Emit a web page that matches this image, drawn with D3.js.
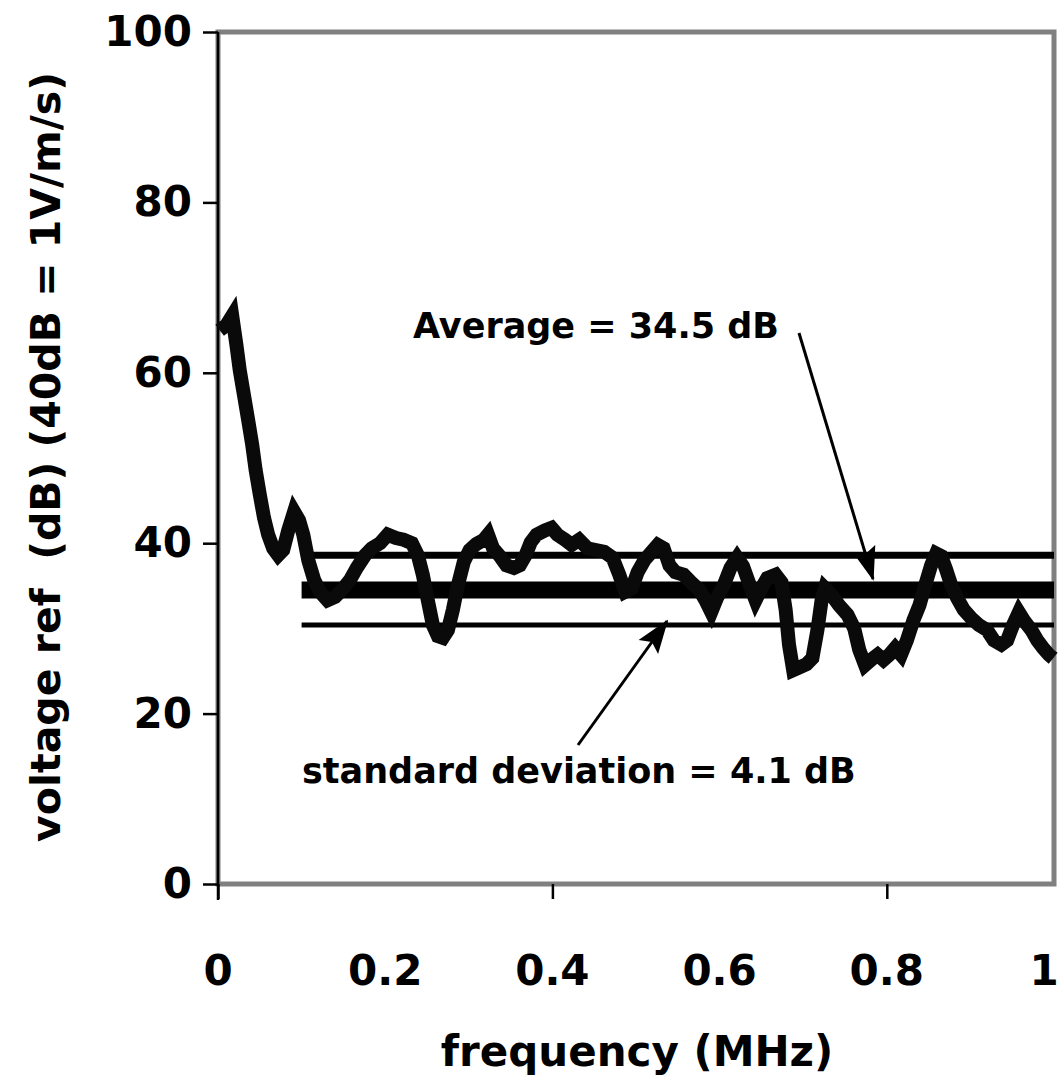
<!DOCTYPE html>
<html><head><meta charset="utf-8">
<script src="https://cdn.jsdelivr.net/npm/d3@7"></script>
<style>body{margin:0;background:#fff} svg{display:block}</style>
</head><body><svg id="c" width="1060" height="1079"></svg>
<script>
// ---- data ----
const freq = [0.002,0.010,0.017,0.022,0.026,0.031,0.036,0.041,0.045,0.050,0.055,0.060,0.066,0.072,0.078,0.084,0.091,0.097,0.102,0.108,0.115,0.122,0.131,0.140,0.148,0.158,0.166,0.176,0.184,0.194,0.203,0.213,0.222,0.232,0.239,0.245,0.251,0.257,0.263,0.269,0.275,0.281,0.287,0.294,0.301,0.309,0.318,0.323,0.329,0.337,0.345,0.354,0.361,0.368,0.374,0.381,0.391,0.399,0.406,0.415,0.423,0.432,0.442,0.452,0.462,0.472,0.480,0.487,0.495,0.502,0.510,0.519,0.526,0.533,0.540,0.547,0.557,0.566,0.576,0.583,0.590,0.597,0.605,0.613,0.621,0.628,0.636,0.643,0.650,0.657,0.667,0.674,0.679,0.683,0.688,0.695,0.704,0.711,0.717,0.722,0.726,0.734,0.743,0.753,0.761,0.767,0.774,0.781,0.789,0.796,0.803,0.810,0.817,0.824,0.832,0.839,0.846,0.853,0.859,0.865,0.871,0.877,0.884,0.892,0.901,0.910,0.920,0.928,0.937,0.944,0.951,0.958,0.965,0.973,0.980,0.987,0.994,0.999];
const level = [65.0,65.6,66.7,63.3,60.3,57.4,54.5,51.5,48.6,45.7,43.0,41.0,39.4,38.6,39.2,41.5,43.7,42.7,41.0,38.0,35.7,34.3,33.3,33.7,34.5,35.7,37.1,38.6,39.4,40.0,41.0,40.6,40.4,40.0,38.6,36.3,33.3,30.4,29.1,28.9,29.8,32.2,35.1,37.8,39.2,39.9,40.4,41.0,39.4,38.5,37.4,37.1,37.4,38.6,40.1,41.0,41.5,41.8,41.0,40.4,39.8,40.4,39.4,39.2,39.0,38.3,36.3,34.3,34.7,36.6,38.0,39.0,39.8,39.4,37.4,36.6,36.3,35.4,34.5,33.3,31.9,33.6,35.1,37.1,38.3,37.3,35.1,33.3,34.7,35.9,36.3,35.4,32.2,28.1,25.1,25.4,25.8,26.5,29.8,33.3,34.7,33.9,32.7,31.6,30.0,27.5,25.7,26.3,26.9,26.3,26.9,27.7,26.9,28.6,31.0,32.7,35.1,37.4,38.8,38.5,36.9,35.1,33.6,32.2,31.2,30.4,29.8,28.6,28.1,28.6,30.4,31.9,30.8,29.8,28.6,27.7,26.9,26.5];
const yTicks = [0, 20, 40, 60, 80, 100];
const xTickLabels = [0, 0.2, 0.4, 0.6, 0.8, 1];
const xTickMarks = [0, 0.4, 0.8];
const average = 34.5;
const stdDev = 4.1;
const refRange = [0.1, 1];
const yTitle = "voltage ref  (dB) (40dB = 1V/m/s)";
const xTitle = "frequency (MHz)";
const avgLabel = "Average = 34.5 dB";
const sdLabel = "standard deviation = 4.1 dB";

// ---- drawing ----
const svg = d3.select("#c");
const FONT = "'DejaVu Sans', sans-serif";
const W = 1060;
const x = d3.scaleLinear().domain([0, 1]).range([218, 1054]);
const y = d3.scaleLinear().domain([0, 100]).range([884, 32]);

// plot border (gray)
svg.append("rect").attr("x", x(0)).attr("y", y(100))
  .attr("width", x(1) - x(0)).attr("height", y(0) - y(100))
  .attr("fill", "none").attr("stroke", "#808080").attr("stroke-width", 5);

// y axis (black)
const yAxis = svg.append("g").attr("transform", `translate(${x(0)},0)`)
  .call(d3.axisLeft(y).tickValues(yTicks).tickSize(15).tickFormat(d3.format("d")));
yAxis.select(".domain").attr("stroke", "#000").attr("stroke-width", 2.5).attr("d", `M0,${y(100)}V${y(0)+16}`);
yAxis.selectAll(".tick line").attr("stroke", "#000").attr("stroke-width", 2.5);
yAxis.selectAll(".tick text").attr("x", -26).attr("font-family", FONT)
  .attr("font-weight", "bold").attr("font-size", 42).attr("fill", "#000");

// x axis ticks (only 0, 0.4, 0.8 marked)
const xAxis = svg.append("g").attr("transform", `translate(0,${y(0)})`)
  .call(d3.axisBottom(x).tickValues(xTickMarks).tickSize(15).tickFormat(""));
xAxis.select(".domain").remove();
xAxis.selectAll(".tick line").attr("stroke", "#000").attr("stroke-width", 2.5);
svg.append("g").selectAll("text").data(xTickLabels).join("text")
  .attr("x", d => Math.min(x(d), W - 16)).attr("y", 985).attr("text-anchor", "middle")
  .attr("font-family", FONT).attr("font-weight", "bold").attr("font-size", 42)
  .text(d => d3.format("~g")(d));

// reference lines
const refs = [
  {v: average + stdDev, w: 7},
  {v: average, w: 17},
  {v: average - stdDev, w: 5}
];
svg.append("g").selectAll("line").data(refs).join("line")
  .attr("x1", x(refRange[0])).attr("x2", x(refRange[1]))
  .attr("y1", d => y(d.v)).attr("y2", d => y(d.v))
  .attr("stroke", "#000").attr("stroke-width", d => d.w);

// data curve
const pts = freq.map((f, i) => [f, level[i]]);
svg.append("path").datum(pts)
  .attr("fill", "none").attr("stroke", "#0a0a0a").attr("stroke-width", 14)
  .attr("stroke-linejoin", "miter").attr("stroke-miterlimit", 3)
  .attr("d", d3.line().x(d => x(d[0])).y(d => y(d[1])));

// arrow marker
const defs = svg.append("defs");
defs.append("marker").attr("id", "ah").attr("markerUnits", "userSpaceOnUse")
  .attr("viewBox", "0 -13 34 26").attr("refX", 32).attr("refY", 0)
  .attr("markerWidth", 34).attr("markerHeight", 26).attr("orient", "auto")
  .append("path").attr("d", "M0,-12L34,0L0,12L6,0Z").attr("fill", "#000");

svg.append("line").attr("x1", 799).attr("y1", 333).attr("x2", 873).attr("y2", 579)
  .attr("stroke", "#000").attr("stroke-width", 3).attr("marker-end", "url(#ah)");
svg.append("line").attr("x1", 578).attr("y1", 745).attr("x2", 667).attr("y2", 621)
  .attr("stroke", "#000").attr("stroke-width", 3).attr("marker-end", "url(#ah)");

// annotations
svg.append("text").attr("x", 413).attr("y", 338).attr("font-family", FONT)
  .attr("font-weight", "bold").attr("font-size", 35).text(avgLabel);
svg.append("text").attr("x", 302).attr("y", 783).attr("font-family", FONT)
  .attr("font-weight", "bold").attr("font-size", 35).text(sdLabel);

// axis titles
svg.append("text").attr("x", (x(0) + x(1)) / 2 + 1).attr("y", 1066).attr("text-anchor", "middle")
  .attr("font-family", FONT).attr("font-weight", "bold").attr("font-size", 42).text(xTitle);
svg.append("text").attr("transform", `translate(60,${457}) rotate(-90)`).attr("text-anchor", "middle")
  .attr("font-family", FONT).attr("font-weight", "bold").attr("font-size", 41)
  .style("white-space", "pre").text(yTitle);
</script></body></html>
